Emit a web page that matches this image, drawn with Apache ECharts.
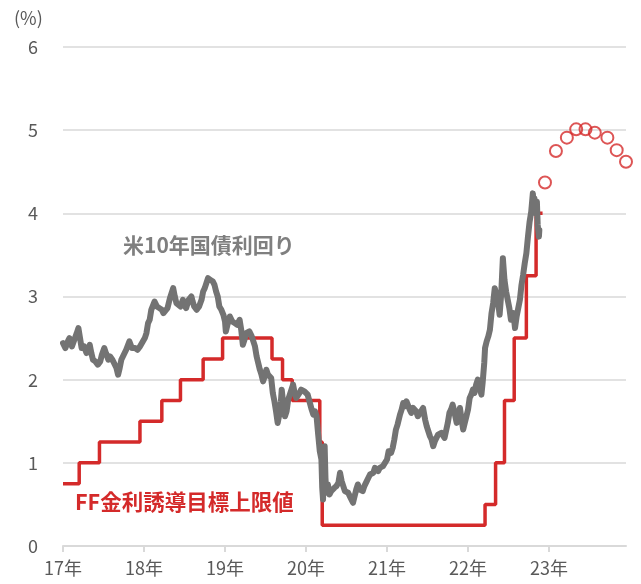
<!DOCTYPE html>
<html>
<head>
<meta charset="utf-8">
<script src="https://cdn.jsdelivr.net/npm/echarts@6/dist/echarts.min.js"></script>
<style>html,body{margin:0;padding:0;background:#fff}#c{width:641px;height:584px}</style>
</head>
<body>
<div id="c"></div>
<script>
// x values are decimal years
const yearTicks = [2017, 2018, 2019, 2020, 2021, 2022, 2023];
const yTicks = [0, 1, 2, 3, 4, 5, 6];

// US 10-year Treasury yield (%)
const yieldX = [2017.00,2017.03,2017.06,2017.08,2017.11,2017.14,2017.17,2017.19,2017.21,2017.23,2017.26,2017.29,2017.31,2017.33,2017.35,2017.37,2017.40,2017.43,2017.46,2017.48,2017.51,2017.53,2017.56,2017.58,2017.61,2017.63,2017.66,2017.68,2017.70,2017.72,2017.75,2017.78,2017.80,2017.82,2017.85,2017.87,2017.89,2017.92,2017.95,2017.97,2018.01,2018.03,2018.05,2018.07,2018.09,2018.11,2018.13,2018.16,2018.19,2018.22,2018.24,2018.26,2018.29,2018.32,2018.34,2018.36,2018.38,2018.40,2018.42,2018.45,2018.48,2018.50,2018.52,2018.55,2018.585,2018.60,2018.62,2018.65,2018.68,2018.71,2018.73,2018.75,2018.77,2018.79,2018.82,2018.85,2018.87,2018.89,2018.91,2018.93,2018.955,2018.98,2019.00,2019.01,2019.03,2019.06,2019.09,2019.12,2019.15,2019.18,2019.20,2019.22,2019.24,2019.26,2019.28,2019.30,2019.33,2019.35,2019.37,2019.39,2019.41,2019.43,2019.45,2019.47,2019.49,2019.51,2019.53,2019.55,2019.57,2019.59,2019.61,2019.63,2019.65,2019.67,2019.69,2019.70,2019.72,2019.74,2019.76,2019.78,2019.80,2019.82,2019.84,2019.86,2019.88,2019.90,2019.92,2019.94,2019.96,2019.98,2020.00,2020.02,2020.04,2020.07,2020.09,2020.11,2020.13,2020.15,2020.17,2020.19,2020.20,2020.21,2020.22,2020.23,2020.24,2020.25,2020.27,2020.29,2020.31,2020.33,2020.35,2020.375,2020.40,2020.42,2020.44,2020.46,2020.48,2020.50,2020.52,2020.54,2020.56,2020.58,2020.60,2020.62,2020.64,2020.66,2020.68,2020.70,2020.72,2020.75,2020.77,2020.79,2020.81,2020.83,2020.85,2020.87,2020.89,2020.91,2020.93,2020.95,2020.97,2021.00,2021.02,2021.05,2021.07,2021.09,2021.11,2021.13,2021.16,2021.18,2021.20,2021.22,2021.24,2021.26,2021.28,2021.30,2021.32,2021.34,2021.36,2021.38,2021.40,2021.42,2021.445,2021.47,2021.49,2021.51,2021.53,2021.55,2021.57,2021.59,2021.61,2021.63,2021.65,2021.67,2021.69,2021.71,2021.73,2021.75,2021.77,2021.79,2021.81,2021.83,2021.86,2021.88,2021.90,2021.92,2021.94,2021.96,2021.98,2022.00,2022.02,2022.04,2022.06,2022.08,2022.10,2022.12,2022.14,2022.165,2022.18,2022.20,2022.21,2022.23,2022.25,2022.27,2022.29,2022.31,2022.33,2022.35,2022.37,2022.39,2022.41,2022.43,2022.45,2022.47,2022.49,2022.51,2022.53,2022.56,2022.58,2022.60,2022.62,2022.64,2022.66,2022.68,2022.70,2022.72,2022.74,2022.76,2022.78,2022.80,2022.81,2022.82,2022.835,2022.85,2022.86,2022.875,2022.88];
const yieldY = [2.44,2.38,2.46,2.50,2.40,2.48,2.56,2.62,2.50,2.38,2.40,2.32,2.30,2.42,2.32,2.24,2.22,2.18,2.22,2.30,2.38,2.32,2.24,2.28,2.24,2.22,2.14,2.06,2.14,2.24,2.30,2.36,2.38,2.46,2.38,2.36,2.38,2.36,2.40,2.42,2.50,2.56,2.68,2.72,2.84,2.86,2.94,2.88,2.86,2.84,2.80,2.78,2.86,2.98,3.04,3.10,3.00,2.92,2.92,2.88,2.96,2.90,2.86,2.96,3.00,2.94,2.88,2.84,2.88,2.96,3.06,3.10,3.16,3.22,3.20,3.18,3.14,3.06,3.00,2.88,2.84,2.78,2.70,2.58,2.66,2.76,2.70,2.68,2.66,2.72,2.60,2.42,2.48,2.56,2.54,2.58,2.52,2.46,2.40,2.28,2.20,2.12,2.06,1.98,2.04,2.12,2.06,2.08,2.02,1.84,1.74,1.62,1.48,1.58,1.74,1.88,1.70,1.56,1.62,1.76,1.82,1.88,1.94,1.84,1.78,1.80,1.84,1.88,1.90,1.86,1.88,1.82,1.80,1.64,1.58,1.62,1.56,1.34,1.14,1.04,0.70,0.56,1.00,1.20,0.82,0.64,0.74,0.62,0.66,0.64,0.70,0.72,0.76,0.88,0.78,0.72,0.66,0.68,0.64,0.60,0.56,0.52,0.60,0.68,0.74,0.68,0.70,0.66,0.72,0.78,0.82,0.86,0.84,0.88,0.94,0.96,0.90,0.94,0.92,0.96,0.98,1.04,1.14,1.12,1.18,1.28,1.40,1.46,1.58,1.64,1.72,1.68,1.74,1.72,1.64,1.60,1.66,1.68,1.62,1.56,1.58,1.62,1.66,1.52,1.44,1.38,1.32,1.28,1.20,1.26,1.30,1.34,1.34,1.36,1.34,1.30,1.32,1.48,1.60,1.64,1.70,1.62,1.48,1.58,1.66,1.52,1.40,1.48,1.56,1.64,1.78,1.82,1.88,1.84,1.94,2.00,1.92,1.82,1.96,2.20,2.38,2.46,2.52,2.60,2.80,2.92,3.10,3.02,2.94,2.78,3.04,3.46,3.20,3.06,2.96,2.86,2.72,2.80,2.62,2.76,2.86,2.96,3.14,3.26,3.40,3.52,3.72,3.90,4.02,4.24,4.12,4.18,4.00,4.14,3.86,3.72,3.80];

// FF rate target upper bound (%), value effective from the given date
const ffX = [2017.00,2017.20,2017.45,2017.95,2018.22,2018.45,2018.73,2018.97,2019.58,2019.71,2019.83,2020.17,2020.20,2022.21,2022.34,2022.45,2022.57,2022.72,2022.84,2022.92];
const ffY = [0.75,1.00,1.25,1.50,1.75,2.00,2.25,2.50,2.25,2.00,1.75,1.25,0.25,0.50,1.00,1.75,2.50,3.25,4.00,4.00];

// Market-implied FF rate at upcoming FOMC meetings (%)
const fomcX = [2022.95,2023.085,2023.22,2023.335,2023.45,2023.565,2023.72,2023.835,2023.95];
const fomcY = [4.37,4.75,4.91,5.01,5.01,4.97,4.91,4.76,4.62];

const zip = (a, b) => a.map((v, i) => [v, b[i]]);
const FONT = '"Noto Sans CJK JP", "Noto Sans", sans-serif';
const RED = '#d42a2a';
const GRAY = '#737373';

const chart = echarts.init(document.getElementById('c'), null, {renderer: 'canvas'});
chart.setOption({
  animation: false,
  backgroundColor: '#ffffff',
  textStyle: {fontFamily: FONT},
  grid: {left: 63, right: 15, top: 47, bottom: 38, containLabel: false},
  xAxis: {
    type: 'value',
    min: 2017, max: 2023.95,
    splitLine: {show: false},
    axisLine: {show: true, lineStyle: {color: '#d9d9d9', width: 2}},
    axisTick: {show: true, customValues: yearTicks, length: 6, lineStyle: {color: '#d9d9d9', width: 2}},
    axisLabel: {customValues: yearTicks, color: '#595959', fontSize: 18, margin: 13, fontFamily: FONT,
      formatter: v => String(Math.round(v)).slice(2) + '年'}
  },
  yAxis: {
    type: 'value',
    min: 0, max: 6, interval: 1,
    axisLine: {show: false},
    axisTick: {show: false},
    splitLine: {show: true, lineStyle: {color: '#d9d9d9', width: 1.5}},
    axisLabel: {color: '#595959', fontSize: 18, margin: 25, fontFamily: FONT}
  },
  graphic: [
    {type: 'text', left: 14, top: 9, style: {text: '(%)', fill: '#595959', font: '18px ' + FONT}},
    {type: 'text', left: 123, top: 235, style: {text: '米10年国債利回り', fill: '#7f7f7f', font: 'bold 21px ' + FONT}},
    {type: 'text', left: 75, top: 491, style: {text: 'FF金利誘導目標上限値', fill: RED, font: 'bold 21.5px ' + FONT}}
  ],
  series: [
    {type: 'line', data: zip(ffX, ffY), step: 'end', showSymbol: false,
      lineStyle: {color: RED, width: 3.5}, z: 2},
    {type: 'line', data: zip(yieldX, yieldY), showSymbol: false,
      lineStyle: {color: GRAY, width: 6, join: 'round', cap: 'round'}, z: 3},
    {type: 'scatter', data: zip(fomcX, fomcY), symbol: 'circle', symbolSize: 12,
      itemStyle: {color: 'rgba(255,255,255,0)', borderColor: RED, borderWidth: 2}, z: 4}
  ]
});
</script>
</body>
</html>
